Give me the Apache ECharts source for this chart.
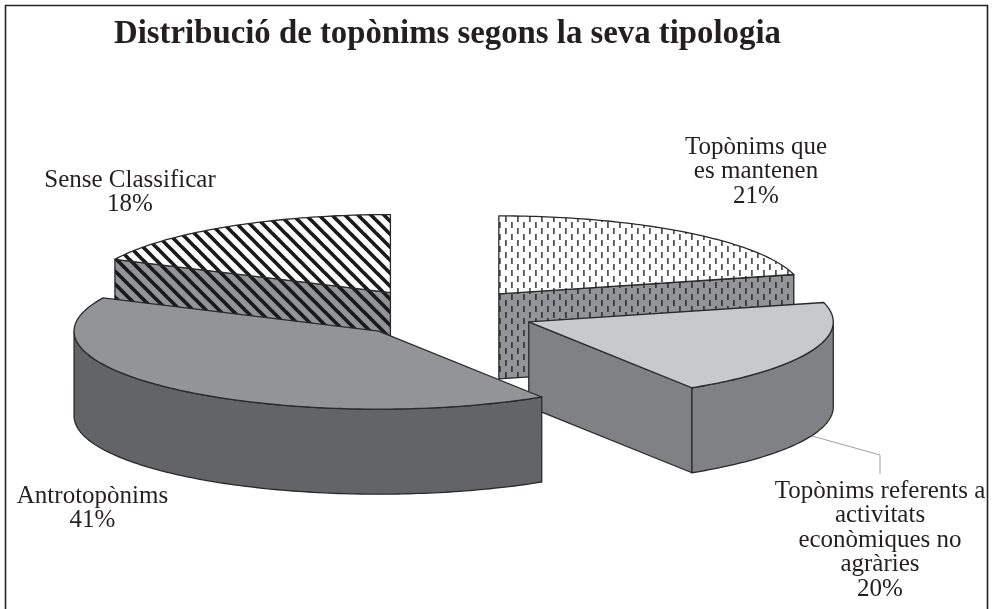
<!DOCTYPE html>
<html><head><meta charset="utf-8">
<style>html,body{margin:0;padding:0;background:#fff}#c{width:995px;height:609px}</style>
<script src="https://cdn.jsdelivr.net/npm/echarts@6/dist/echarts.min.js"></script>
</head><body><div id="c"></div>
<script>
const titleText = 'Distribució de topònims segons la seva tipologia';
const categories = ['Topònims que\nes mantenen', 'Topònims referents a\nactivitats\neconòmiques no\nagràries', 'Antrotopònims', 'Sense Classificar'];
const values = [21, 20, 41, 18];

// Layout and style of the 3D pie (not data)
const PIE = {cx: 441, cy: 313, rx: 304.5, ry: 78, depth: 85, explode: 0.31, startDeg: 270};
const labelAnchors = [[756, 135], [880, 479], [92.5, 484], [130, 168]];
const TEXT_FONT = '25px "Liberation Serif", serif';
const LINE = '#2a2a2c';

function tile(w, h, bg, draw) {
  const c = document.createElement('canvas');
  c.width = w; c.height = h;
  const g = c.getContext('2d');
  g.fillStyle = bg; g.fillRect(0, 0, w, h);
  draw(g);
  return {image: c, repeat: 'repeat'};
}
function hatch(bg) {
  return tile(13, 13, bg, g => {
    g.strokeStyle = '#1a1a1a'; g.lineWidth = 3.7;
    for (let k = -13; k <= 13; k += 13) {
      g.beginPath(); g.moveTo(k - 2, -2); g.lineTo(k + 15, 15); g.stroke();
    }
  });
}
function dashes(bg, col) {
  return tile(12, 12, bg, g => {
    g.fillStyle = col;
    g.fillRect(1, 0, 1.8, 6);
    g.fillRect(7, 6, 1.8, 6);
  });
}
const styles = [
  {top: dashes('#ffffff', '#555'), side: dashes('#929497', '#3a3a3c'), wall: '#929497'},
  {top: '#c8c9cb', side: '#808184', wall: '#808184'},
  {top: '#929497', side: '#636466', wall: '#636466'},
  {top: hatch('#ffffff'), side: hatch('#929497'), wall: '#929497'}
];

const total = values.reduce((a, b) => a + b, 0);
const rad = d => d * Math.PI / 180;
let acc = PIE.startDeg;
const slices = values.map((v, i) => {
  const start = acc, end = acc + v / total * 360;
  acc = end;
  const mid = rad((start + end) / 2);
  return {i, v, start, end,
    cx: PIE.cx + PIE.explode * PIE.rx * Math.cos(mid),
    cy: PIE.cy + PIE.explode * PIE.ry * Math.sin(mid)};
});
const order = slices.slice().sort((a, b) => a.cy - b.cy);

function pt(s, deg, dz) {
  return [s.cx + PIE.rx * Math.cos(rad(deg)), s.cy + PIE.ry * Math.sin(rad(deg)) + (dz || 0)];
}
function arc(s, a, b, dz) {
  const pts = [], n = Math.max(2, Math.ceil(Math.abs(b - a)));
  for (let k = 0; k <= n; k++) pts.push(pt(s, a + (b - a) * k / n, dz));
  return pts;
}
function poly(points, fill) {
  return {type: 'polygon', shape: {points}, style: {fill, stroke: LINE, lineWidth: 1.3, lineJoin: 'round'}};
}

function renderItem(params) {
  const s = order[params.dataIndex], st = styles[s.i], ch = [];
  const apex = [s.cx, s.cy], D = PIE.depth;
  // radial faces that look towards the viewer
  [s.start, s.end].forEach((t, j) => {
    const c = Math.cos(rad(t));
    if ((j === 0 && c < -1e-6) || (j === 1 && c > 1e-6)) {
      const e = pt(s, t);
      ch.push(poly([apex, e, [e[0], e[1] + D], [apex[0], apex[1] + D]], st.side));
    }
  });
  // outer wall: the part of the rim in the front half of the ellipse
  [[0, 180], [360, 540]].forEach(w => {
    const a = Math.max(s.start, w[0]), b = Math.min(s.end, w[1]);
    if (b > a) ch.push(poly(arc(s, a, b, 0).concat(arc(s, b, a, D)), st.wall));
  });
  // top face
  ch.push(poly([apex].concat(arc(s, s.start, s.end, 0)), st.top));
  return {type: 'group', children: ch};
}

function renderLabels(params) {
  const i = params.dataIndex, a = labelAnchors[i];
  return {type: 'text', style: {
    text: categories[i] + '\n' + values[i] + '%', x: a[0], y: a[1],
    align: 'center', verticalAlign: 'top', font: TEXT_FONT, lineHeight: 24.5, fill: '#231f20'
  }};
}

const chart = echarts.init(document.getElementById('c'), null, {renderer: 'canvas'});
chart.setOption({
  animation: false,
  backgroundColor: '#fff',
  title: {
    text: titleText, left: 109, top: 13,
    textStyle: {fontFamily: '"Liberation Serif", serif', fontWeight: 'bold', fontSize: 32.8, color: '#231f20'}
  },
  graphic: [
    {type: 'rect', shape: {x: 5.5, y: 5.5, width: 982, height: 620}, style: {fill: 'none', stroke: '#222', lineWidth: 1.6}, silent: true, z: 1},
    {type: 'polyline', shape: {points: [[812, 436], [880, 455], [880, 474]]}, style: {fill: 'none', stroke: '#a0a0a0', lineWidth: 1}, silent: true, z: 1}
  ],
  series: [
    {type: 'custom', coordinateSystem: 'none', renderItem, data: order.map(s => s.v), silent: true, z: 3},
    {type: 'custom', coordinateSystem: 'none', renderItem: renderLabels, data: values, silent: true, z: 4}
  ]
});
</script></body></html>
